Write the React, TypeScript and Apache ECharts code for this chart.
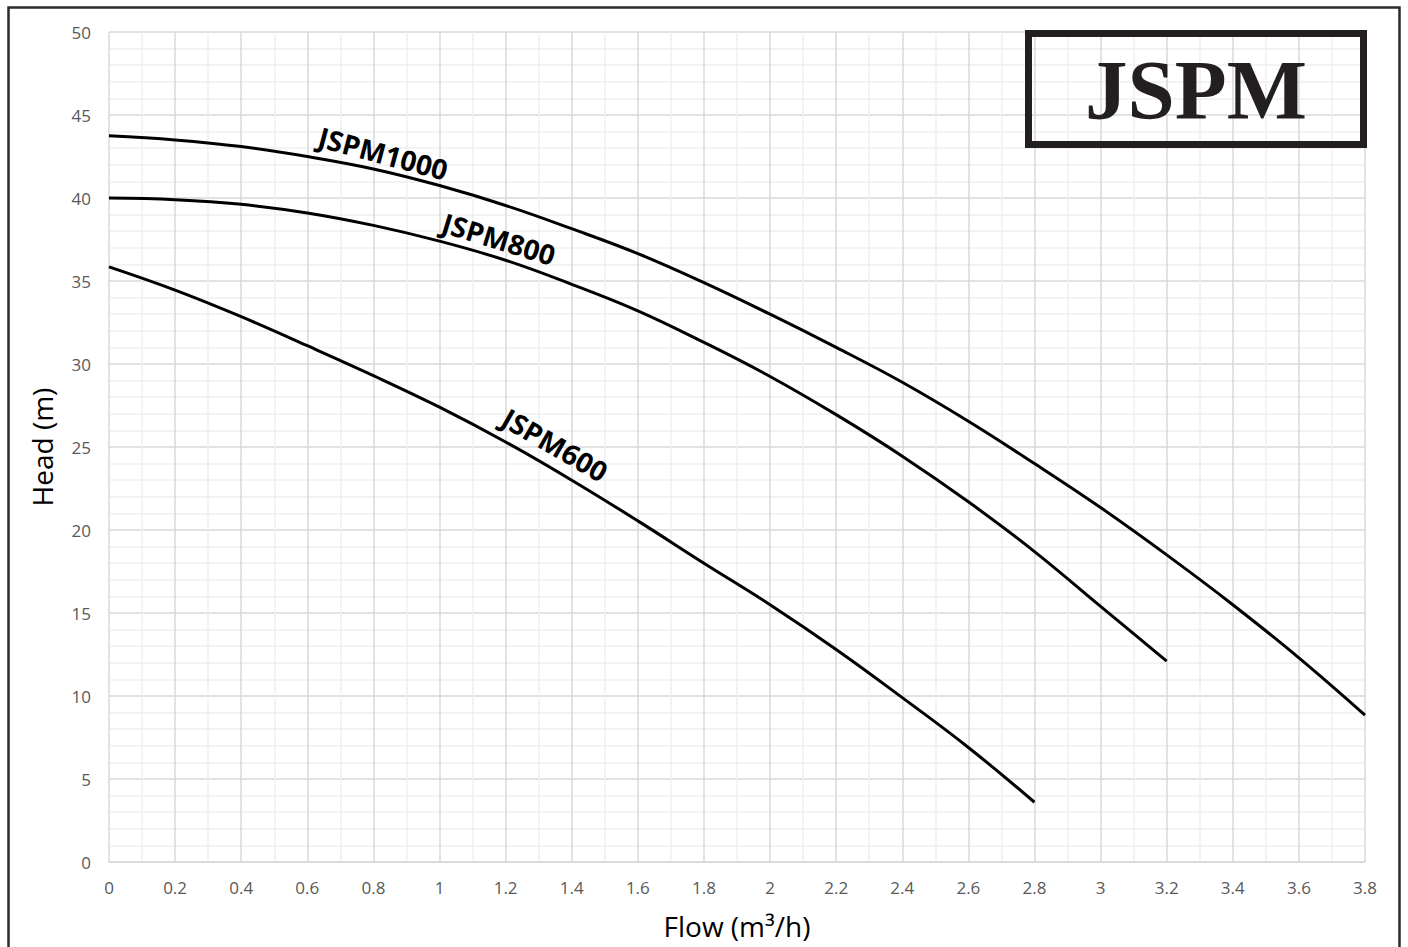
import React, { useEffect, useRef } from "react";
import * as echarts from "echarts";

const flowTicks = [0, 0.2, 0.4, 0.6, 0.8, 1, 1.2, 1.4, 1.6, 1.8, 2, 2.2, 2.4, 2.6, 2.8, 3, 3.2, 3.4, 3.6, 3.8];

const head1000 = [43.75, 43.5, 43.1, 42.5, 41.75, 40.75, 39.55, 38.15, 36.65, 34.9, 33.0, 31.0, 28.9, 26.55, 24.0, 21.35, 18.5, 15.5, 12.3, 8.85];
const head800 = [40.0, 39.9, 39.62, 39.1, 38.35, 37.4, 36.25, 34.8, 33.2, 31.3, 29.25, 26.95, 24.45, 21.7, 18.7, 15.4, 12.1];
const head600 = [35.85, 34.45, 32.85, 31.1, 29.3, 27.4, 25.3, 23.0, 20.55, 18.0, 15.5, 12.8, 9.9, 6.9, 3.6];

const seriesNames = ["JSPM1000", "JSPM800", "JSPM600"];
// label anchor points in data coordinates [flow, head] and rotation in degrees
const labelAnchors: [number, number][] = [[0.83, 42.7], [1.18, 37.55], [1.35, 25.15]];
const labelRotations = [15, 17, 30];

const title = "JSPM";
const xName = "Flow (m³/h)";
const yName = "Head (m)";

function pairs(ys: number[]) {
  return ys.map((y, i) => [flowTicks[i], y]);
}

export default function App() {
  const ref = useRef<HTMLDivElement>(null);
  useEffect(() => {
    if (!ref.current) return;
    const chart = echarts.init(ref.current, undefined, { renderer: "svg" });
    const font = "'Open Sans', sans-serif";
    const lineSeries = [head1000, head800, head600].map((d, i) => ({
      name: seriesNames[i],
      type: "line",
      data: pairs(d),
      smooth: 0.4,
      symbol: "none",
      lineStyle: { color: "#000", width: 3 },
    }));
    chart.setOption({
      animation: false,
      backgroundColor: "#fff",
      grid: { left: 109, right: 43, top: 32, bottom: 85 },
      xAxis: {
        type: "value",
        min: 0,
        max: 3.8,
        interval: 0.2,
        name: xName,
        nameLocation: "middle",
        nameGap: 50,
        nameTextStyle: { fontFamily: font, fontSize: 28, color: "#000" },
        axisLine: { show: true, lineStyle: { color: "#d9d9d9", width: 1.5 } },
        axisTick: { show: false },
        axisLabel: { fontFamily: font, fontSize: 17, color: "#595959", margin: 17 },
        splitLine: { show: true, lineStyle: { color: "#d9d9d9", width: 1.5 } },
        minorTick: { show: false, splitNumber: 2 },
        minorSplitLine: { show: true, lineStyle: { color: "#efefef", width: 1.5 } },
      },
      yAxis: {
        type: "value",
        min: 0,
        max: 50,
        interval: 5,
        name: yName,
        nameLocation: "middle",
        nameGap: 53,
        nameRotate: 90,
        nameTextStyle: { fontFamily: font, fontSize: 28, color: "#000" },
        axisLine: { show: false },
        axisTick: { show: false },
        axisLabel: { fontFamily: font, fontSize: 17, color: "#595959", margin: 18 },
        splitLine: { show: true, lineStyle: { color: "#d9d9d9", width: 1.5 } },
        minorTick: { show: false, splitNumber: 5 },
        minorSplitLine: { show: true, lineStyle: { color: "#efefef", width: 1.5 } },
      },
      series: lineSeries,
    });

    const labels = labelAnchors.map((a, i) => {
      const p = chart.convertToPixel({ gridIndex: 0 }, a) as number[];
      return {
        type: "text",
        x: p[0],
        y: p[1],
        rotation: (-labelRotations[i] * Math.PI) / 180,
        z: 10,
        style: {
          text: seriesNames[i],
          fill: "#000",
          font: `bold 28px ${font}`,
          align: "center",
          verticalAlign: "middle",
        },
      };
    });

    chart.setOption({
      graphic: [
        {
          type: "rect",
          shape: { x: 8.5, y: 7.5, width: 1391, height: 960 },
          style: { fill: "none", stroke: "#2b2b2b", lineWidth: 2.5 },
          z: 20,
        },
        {
          type: "rect",
          shape: { x: 1028.5, y: 33.5, width: 335, height: 111 },
          style: { fill: "none", stroke: "#231f20", lineWidth: 7 },
          z: 20,
        },
        {
          type: "text",
          x: 1196,
          y: 90,
          z: 20,
          style: {
            text: title,
            fill: "#231f20",
            font: "bold 85px 'Liberation Serif', serif",
            align: "center",
            verticalAlign: "middle",
          },
        },
        ...labels,
      ],
    });
    return () => chart.dispose();
  }, []);
  return (
    <div
      ref={ref}
      style={{ position: "fixed", left: 0, top: 0, width: 1408, height: 947 }}
    />
  );
}
